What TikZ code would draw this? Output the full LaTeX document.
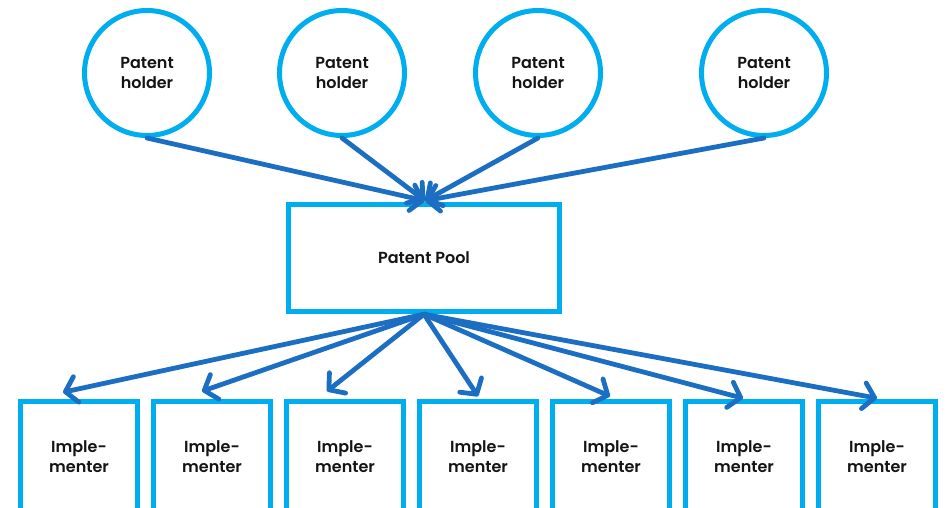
\documentclass[tikz,border=0pt]{standalone}
\usepackage{fontspec}
\setmainfont{Poppins}[UprightFont=* SemiBold]
\usetikzlibrary{arrows.meta,calc}
\definecolor{ringblue}{HTML}{00AEEF}
\definecolor{flowblue}{HTML}{1B6EC2}
\definecolor{inktext}{HTML}{141414}
\tikzset{
  label text/.style={text=inktext, align=center, font=\fontsize{16}{19.5}\selectfont},
  holder/.style={circle, draw=ringblue, line width=5pt, minimum size=125pt,
    inner sep=0pt, label text},
  poolbox/.style={rectangle, draw=ringblue, line width=5.5pt, minimum width=271pt,
    minimum height=107pt, inner sep=0pt, label text},
  implbox/.style={rectangle, draw=ringblue, line width=5.5pt, minimum width=117pt,
    minimum height=125pt, inner sep=0pt, text depth=15pt, label text,
    font=\fontsize{16}{20.5}\selectfont},
  flow/.style={draw=flowblue, line width=4.8pt, line cap=round,
    -{Straight Barb[length=11pt,width=26pt,line cap=round,line join=round]}}
}
\begin{document}
\begin{tikzpicture}[x=1pt,y=-1pt]
  \useasboundingbox (0,0) rectangle (946,508);

  % patent holders
  \node[holder] (h1) at (147,73) {Patent\\holder};
  \node[holder] (h2) at (342,73) {Patent\\holder};
  \node[holder] (h3) at (538,73) {Patent\\holder};
  \node[holder] (h4) at (764,73) {Patent\\holder};

  % the pool
  \node[poolbox] (pool) at (424,258) {Patent Pool};

  % implementers (their lower edges run off the page)
  \foreach \i/\x in {1/79,2/212,3/345,4/478,5/611,6/744,7/877}
    \node[implbox] (b\i) at (\x,464) {Imple-\\menter};

  % arrow tips above the implementers
  \coordinate (t1) at ($(b1.north)+(-16,-6.5)$);
  \coordinate (t2) at ($(b2.north)+(-10,-7.5)$);
  \coordinate (t3) at ($(b3.north)+(-18,-7.5)$);
  \coordinate (t4) at ($(b4.north)+(0,-2.5)$);
  \coordinate (t5) at ($(b5.north)+(-1,-2.5)$);
  \coordinate (t6) at ($(b6.north)+(-1,-0.5)$);
  \coordinate (t7) at ($(b7.north)+(0,-0.5)$);

  % holders feed the pool
  \foreach \i in {1,...,4}
    \draw[flow] (h\i.south) -- ($(pool.north)+(1,-1)$);

  % the pool licenses to implementers
  \foreach \i in {1,...,7}
    \draw[flow] (pool.south) -- (t\i);
\end{tikzpicture}
\end{document}
